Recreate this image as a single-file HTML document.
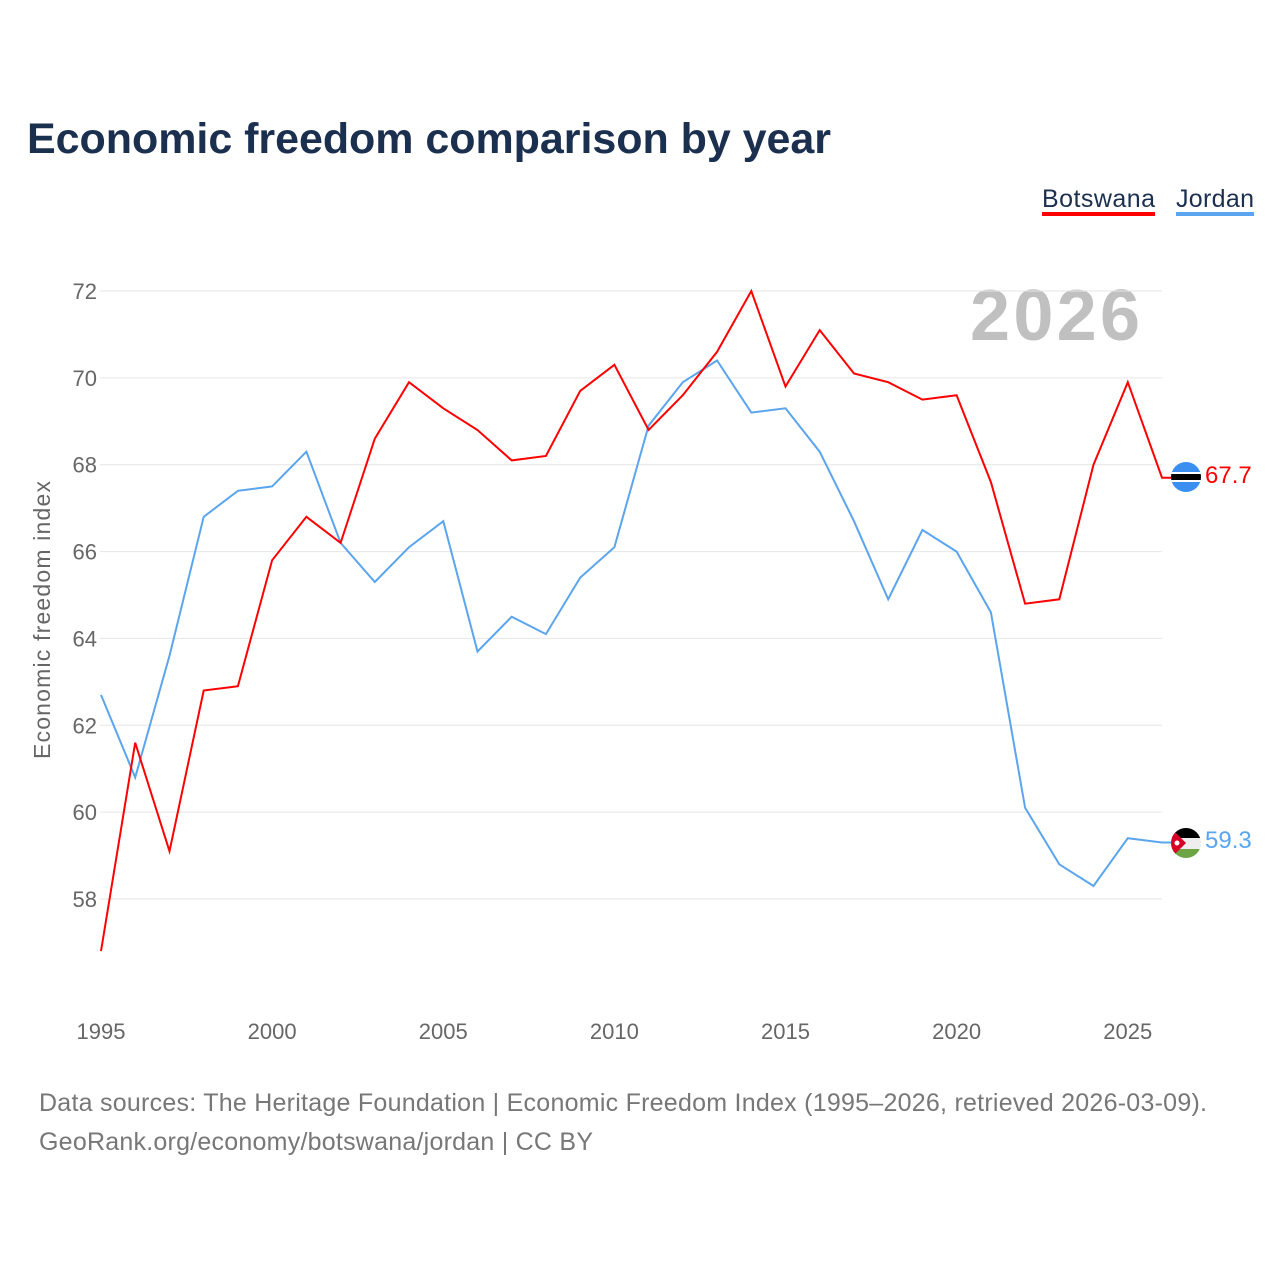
<!DOCTYPE html>
<html><head><meta charset="utf-8"><style>
body{margin:0;background:#fff;font-family:"Liberation Sans",sans-serif}
</style></head><body>
<svg id="chart" width="1280" height="1280" xmlns="http://www.w3.org/2000/svg" font-family="Liberation Sans, sans-serif">
<text x="27" y="153" font-size="43" font-weight="bold" fill="#1b2f4f" textLength="804">Economic freedom comparison by year</text>
<g><text x="1042" y="207" font-size="25" fill="#1b2f4f" textLength="113">Botswana</text><rect x="1042" y="212" width="113" height="4" fill="#ff0000"/></g>
<g><text x="1176" y="207" font-size="25" fill="#1b2f4f" textLength="78">Jordan</text><rect x="1176" y="212" width="78" height="4" fill="#5aa5ee"/></g>
<text x="1140" y="340" font-size="72" font-weight="bold" fill="#c0c0c0" text-anchor="end" textLength="170">2026</text>
<text transform="translate(50,620) rotate(-90)" font-size="23" fill="#666" text-anchor="middle" textLength="278">Economic freedom index</text>
<g id="grid"></g><g id="yt"></g><g id="xt"></g><g id="lines"></g>
<g><clipPath id="cb"><circle cx="1186" cy="477" r="15"/></clipPath><g clip-path="url(#cb)"><rect x="1170" y="461" width="32" height="32" fill="#3a8ff0"/><rect x="1170" y="472" width="32" height="10" fill="#fff"/><rect x="1170" y="474" width="32" height="6" fill="#000"/></g></g>
<g><clipPath id="cj"><circle cx="1186" cy="843" r="15"/></clipPath><g clip-path="url(#cj)"><rect x="1170" y="827" width="32" height="11" fill="#000"/><rect x="1170" y="838" width="32" height="11" fill="#eee"/><rect x="1170" y="849" width="32" height="11" fill="#6da544"/><polygon points="1170,827 1186,843 1170,859" fill="#d80027"/><circle cx="1177" cy="843" r="2.5" fill="#fff"/></g></g>
<text x="1205" y="483" font-size="24" fill="#ff0000">67.7</text>
<text x="1205" y="848" font-size="24" fill="#5aa5ee">59.3</text>
<text x="39" y="1111" font-size="25" fill="#777" textLength="1168">Data sources: The Heritage Foundation | Economic Freedom Index (1995–2026, retrieved 2026-03-09).</text>
<text x="39" y="1150" font-size="25" fill="#777" textLength="554">GeoRank.org/economy/botswana/jordan | CC BY</text>
</svg>
<script>
const years=[1995,1996,1997,1998,1999,2000,2001,2002,2003,2004,2005,2006,2007,2008,2009,2010,2011,2012,2013,2014,2015,2016,2017,2018,2019,2020,2021,2022,2023,2024,2025,2026];
const botswana=[56.8,61.6,59.1,62.8,62.9,65.8,66.8,66.2,68.6,69.9,69.3,68.8,68.1,68.2,69.7,70.3,68.8,69.6,70.6,72.0,69.8,71.1,70.1,69.9,69.5,69.6,67.6,64.8,64.9,68.0,69.9,67.7];
const jordan=[62.7,60.8,63.6,66.8,67.4,67.5,68.3,66.2,65.3,66.1,66.7,63.7,64.5,64.1,65.4,66.1,68.9,69.9,70.4,69.2,69.3,68.3,66.7,64.9,66.5,66.0,64.6,60.1,58.8,58.3,59.4,59.3];
const yTicks=[58,60,62,64,66,68,70,72];
const xTicks=[1995,2000,2005,2010,2015,2020,2025];
const NS="http://www.w3.org/2000/svg";
const xs=y=>101+(y-1995)*(1162-101)/31;
const ys=v=>899-(v-58)*(899-291)/14;
function mk(t,a,p){const e=document.createElementNS(NS,t);for(const k in a)e.setAttribute(k,a[k]);document.getElementById(p).appendChild(e);return e;}
yTicks.forEach(v=>{
 const l=mk('line',{x1:100,x2:1162,y1:ys(v),y2:ys(v),stroke:'#e6e6e6','stroke-width':1},'grid');
 
 
 const t=mk('text',{x:97,y:ys(v)+8,'font-size':22,fill:'#666','text-anchor':'end'},'yt');t.textContent=v;
 
 
});
xTicks.forEach(y=>{
 const t=mk('text',{x:xs(y),y:1039,'font-size':22,fill:'#666','text-anchor':'middle'},'xt');t.textContent=y;
 
 
});
[[jordan,'#5aa5ee','jordan'],[botswana,'#ff0000','botswana']].forEach(([d,c,n])=>{
 let p=d.map((v,i)=>(i?'L':'M')+xs(years[i]).toFixed(1)+','+ys(v).toFixed(1)).join('');
 p+='L1172,'+ys(d[d.length-1]).toFixed(1);
 const e=mk('path',{d:p,fill:'none',stroke:c,'stroke-width':2,'stroke-linejoin':'miter'},'lines');
 
 
});
</script>
</body></html>
